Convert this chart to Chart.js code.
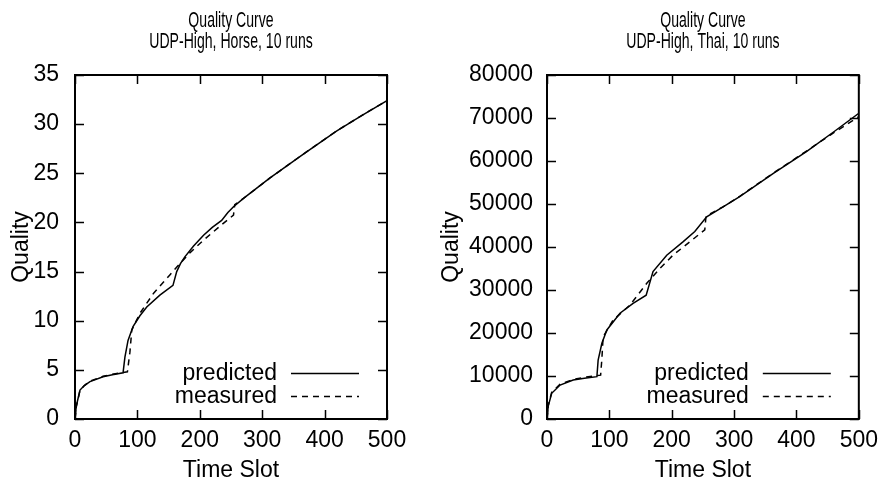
<!DOCTYPE html>
<html><head><meta charset="utf-8">
<script src="https://cdn.jsdelivr.net/npm/chart.js@4.4.0/dist/chart.umd.min.js"></script>
<style>
html,body{margin:0;padding:0;background:#fff;}
#wrap{position:relative;width:886px;height:490px;background:#fff;overflow:hidden;}
canvas{position:absolute;top:0;}
</style></head><body>
<div id="wrap">
<canvas id="c1" width="430" height="490" style="left:0"></canvas>
<canvas id="c2" width="456" height="490" style="left:430px"></canvas>
</div>
<script>
// ---- tick labels ----
const timeTicks = [0, 100, 200, 300, 400, 500];
const horseTicks = [0, 5, 10, 15, 20, 25, 30, 35];
const thaiTicks = [0, 10000, 20000, 30000, 40000, 50000, 60000, 70000, 80000];
const seriesNames = ['predicted', 'measured'];

// ---- Horse (left) ----
const horsePredSlots = [0, 2, 8, 15, 24, 45, 60, 77, 80, 85, 93, 104, 115, 136, 157, 163, 169, 176, 190, 206, 220, 235, 245, 254, 270, 312, 366, 419, 460, 500];
const horsePredVals  = [0, 1.3, 2.95, 3.4, 3.8, 4.3, 4.5, 4.7, 6.3, 8.0, 9.4, 10.5, 11.4, 12.6, 13.6, 15.0, 15.8, 16.5, 17.6, 18.7, 19.5, 20.2, 21.0, 21.6, 22.45, 24.5, 26.96, 29.3, 30.9, 32.4];
const horseMeasSlots = [0, 2, 8, 15, 24, 45, 60, 84, 88, 91, 104, 126, 152, 168, 184, 206, 232, 254, 256, 270, 312, 366, 419, 460, 500];
const horseMeasVals  = [0, 1.2, 2.9, 3.4, 3.85, 4.35, 4.55, 4.8, 6.8, 9.05, 10.75, 12.8, 14.65, 15.8, 16.9, 18.2, 19.6, 20.75, 21.8, 22.45, 24.5, 26.96, 29.3, 30.9, 32.4];

// ---- Thai (right) ----
const thaiPredSlots = [0, 2, 7.5, 21, 42, 60, 80, 82, 88, 96, 117, 138, 159, 170, 192, 218, 237, 256, 283, 309, 363, 416, 460, 500];
const thaiPredVals  = [0, 3000, 5970, 7900, 9070, 9500, 9840, 13700, 17600, 20700, 24600, 26900, 28800, 34300, 38100, 41200, 43600, 47000, 49400, 51700, 57100, 62200, 66800, 71100];
const thaiMeasSlots = [0, 2, 7.5, 21, 42, 60, 86, 88, 90, 106, 133, 160, 181, 202, 229, 253, 255, 283, 309, 363, 416, 460, 500];
const thaiMeasVals  = [0, 3200, 6200, 8100, 9200, 9700, 10200, 14000, 19100, 23000, 26500, 31550, 35000, 38100, 41200, 44000, 47200, 49400, 51800, 57200, 62300, 66600, 70300];

const FONT = "'Liberation Sans', Arial, Helvetica, sans-serif";
const FS = 23;
const TITLE_FS = 22;
const TITLE_SQUEEZE = 0.64;
Chart.defaults.font.family = FONT;
Chart.defaults.font.size = FS;
Chart.defaults.color = '#000';

function pts(xs, ys) { return xs.map((x, i) => ({ x: x, y: ys[i] })); }

// draw the built-in title with a narrow (horizontally condensed) face, as in the original
const narrowTitle = {
  id: 'narrowTitle',
  beforeDraw(chart) {
    const tb = chart.titleBlock;
    if (tb && !tb._narrow) {
      const orig = tb.draw.bind(tb);
      tb.draw = function (area) {
        const ctx = chart.ctx;
        const cx = (tb.left + tb.right) / 2;
        ctx.save();
        ctx.translate(cx, 0);
        ctx.scale(TITLE_SQUEEZE, 1);
        ctx.translate(-cx, 0);
        orig(area);
        ctx.restore();
      };
      tb._narrow = true;
    }
  }
};

const framePlugin = {
  id: 'frame',
  afterDatasetsDraw(chart) {
    const { ctx, chartArea: a, scales } = chart;
    const xs = scales.x, ys = scales.y;
    const L = 9;
    ctx.save();
    ctx.strokeStyle = '#000';
    ctx.lineWidth = 1.5;
    ctx.beginPath();
    xs.ticks.forEach(t => {
      const px = Math.round(xs.getPixelForValue(t.value)) + 0.5;
      ctx.moveTo(px, a.bottom); ctx.lineTo(px, a.bottom - L);
      ctx.moveTo(px, a.top); ctx.lineTo(px, a.top + L);
    });
    ys.ticks.forEach(t => {
      const py = Math.round(ys.getPixelForValue(t.value)) + 0.5;
      ctx.moveTo(a.left, py); ctx.lineTo(a.left + L, py);
      ctx.moveTo(a.right, py); ctx.lineTo(a.right - L, py);
    });
    ctx.stroke();
    ctx.lineWidth = 2;
    ctx.strokeRect(a.left, a.top, a.right - a.left, a.bottom - a.top);
    ctx.restore();
  }
};

const keyPlugin = {
  id: 'key',
  afterDatasetsDraw(chart) {
    const { ctx, chartArea: a } = chart;
    ctx.save();
    ctx.font = FS + 'px ' + FONT;
    ctx.fillStyle = '#000';
    ctx.textAlign = 'right';
    ctx.textBaseline = 'middle';
    chart.data.datasets.forEach((ds, i) => {
      const y = a.bottom - 46 + i * 23;
      ctx.fillText(ds.label, a.right - 110, y + 1);
      ctx.strokeStyle = '#000';
      ctx.lineWidth = ds.borderWidth;
      ctx.setLineDash(ds.borderDash || []);
      ctx.beginPath();
      ctx.moveTo(a.right - 96, y + 0.5);
      ctx.lineTo(a.right - 28, y + 0.5);
      ctx.stroke();
    });
    ctx.restore();
  }
};

function makeChart(id, subtitle, yTicks, yMax, predS, predV, measS, measV, yWidth, padRight, yTitlePad, yTickPad) {
  return new Chart(document.getElementById(id), {
    type: 'scatter',
    data: {
      datasets: [
        { label: seriesNames[0], data: pts(predS, predV), showLine: true, borderColor: '#000', borderWidth: 1.5, pointRadius: 0, tension: 0 },
        { label: seriesNames[1], data: pts(measS, measV), showLine: true, borderColor: '#000', borderWidth: 1.5, borderDash: [6, 5], pointRadius: 0, tension: 0 }
      ]
    },
    options: {
      responsive: false,
      animation: false,
      events: [],
      devicePixelRatio: 1,
      layout: { padding: { left: 0, right: padRight, top: 0, bottom: 0 } },
      plugins: {
        legend: { display: false },
        tooltip: { enabled: false },
        title: {
          display: true,
          text: ['Quality Curve', subtitle],
          fullSize: false,
          color: '#000',
          font: { family: FONT, size: TITLE_FS, weight: 'normal', lineHeight: 21 / TITLE_FS },
          padding: { top: 10, bottom: 23 }
        }
      },
      scales: {
        x: {
          type: 'linear', min: 0, max: 500,
          afterBuildTicks: s => { s.ticks = timeTicks.map(v => ({ value: v })); },
          afterFit: s => { s.height = 71; },
          grid: { display: false, drawTicks: false },
          border: { display: false },
          ticks: { padding: 8, color: '#000', font: { size: FS }, maxRotation: 0 },
          title: { display: true, text: 'Time Slot', color: '#000', font: { size: FS }, padding: { top: 0, bottom: 6 } }
        },
        y: {
          type: 'linear', min: 0, max: yMax,
          afterBuildTicks: s => { s.ticks = yTicks.map(v => ({ value: v })); },
          afterFit: s => { s.width = yWidth; },
          grid: { display: false, drawTicks: false },
          border: { display: false },
          ticks: { padding: yTickPad, color: '#000', font: { size: FS }, callback: v => String(v) },
          title: { display: true, text: 'Quality', color: '#000', font: { size: FS }, padding: { top: yTitlePad, bottom: 0 } }
        }
      }
    },
    plugins: [narrowTitle, framePlugin, keyPlugin]
  });
}

const ch1 = makeChart('c1', 'UDP-High, Horse, 10 runs', horseTicks, 35, horsePredSlots, horsePredVals, horseMeasSlots, horseMeasVals, 75, 43, 8, 16);
const ch2 = makeChart('c2', 'UDP-High, Thai, 10 runs', thaiTicks, 80000, thaiPredSlots, thaiPredVals, thaiMeasSlots, thaiMeasVals, 117, 27, 8, 14);
ch1.draw(); ch2.draw();
</script>
</body></html>
